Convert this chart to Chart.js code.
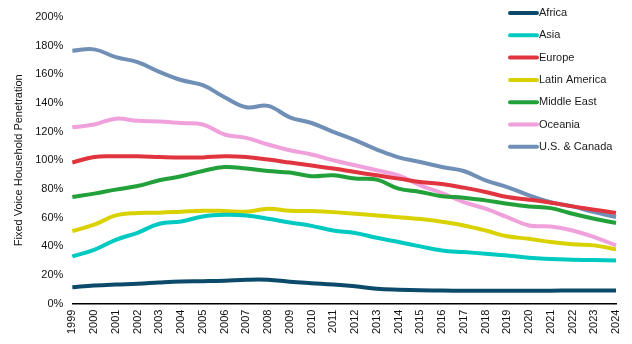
<!DOCTYPE html>
<html>
<head>
<meta charset="utf-8">
<script src="https://cdn.jsdelivr.net/npm/chart.js@4"></script>
<style>
html,body{margin:0;padding:0;background:#fff;}
#wrap{width:632px;height:344px;position:relative;}
</style>
</head>
<body>
<div id="wrap"><canvas id="c"></canvas></div>
<script>
const years = ['1999','2000','2001','2002','2003','2004','2005','2006','2007','2008','2009','2010','2011','2012','2013','2014','2015','2016','2017','2018','2019','2020','2021','2022','2023','2024'];
const africa = [11.4,12.6,13.3,13.8,14.7,15.4,15.6,15.9,16.6,16.6,15.2,14.2,13.3,12.1,10.3,9.6,9.2,9.1,8.9,8.9,8.9,8.9,9.0,9.1,9.1,9.1];
const asia = [32.9,37.5,44.5,49.4,55.7,57.3,60.8,62.0,61.5,59.2,56.6,54.2,51.0,49.2,45.9,42.9,39.9,37.0,35.9,34.8,33.6,32.0,31.0,30.6,30.3,30.1];
const europe = [98.4,102.3,102.8,102.8,102.3,101.9,102.0,102.8,102.3,100.5,98.4,96.3,94.2,91.8,89.5,87.2,84.8,83.4,80.9,77.9,74.3,72.5,70.4,67.8,65.5,63.2];
const latinAmerica = [50.6,55.0,61.5,63.2,63.4,64.1,64.8,64.6,64.1,66.2,64.8,64.5,63.8,62.7,61.5,60.3,59.0,57.1,54.5,51.0,46.9,45.2,42.9,41.3,40.6,37.8];
const middleEast = [74.3,76.7,79.5,82.0,86.0,88.8,92.5,95.3,94.2,92.5,91.4,88.9,89.5,87.2,86.5,80.2,77.9,74.9,73.9,72.0,69.7,67.8,66.6,62.7,59.2,56.2];
const oceania = [123,125,129,127.5,127,126,125,118,115.6,111,107,104,100,96.5,93,89.5,82.5,77,70.8,66.2,60.3,54.5,53.8,51,46.4,40.6];
const usCanada = [176.4,177.4,172,168.5,161.7,156,152.4,144,137,138,130,126,119.8,114,107.5,102,98.8,95.3,92.5,86,81.3,75.5,70.8,67.8,63.8,60.3];
const seriesNames = ['Africa','Asia','Europe','Latin America','Middle East','Oceania','U.S. & Canada'];
const seriesData = [africa, asia, europe, latinAmerica, middleEast, oceania, usCanada];
const seriesColors = ['#0b4a6a','#00c9c1','#e0353f','#d9d200','#22a03a','#f0a0da','#6f8fb6'];
const yTicks = [0,20,40,60,80,100,120,140,160,180,200];

const FONT = '"Liberation Sans", Arial, sans-serif';

const legendPlugin = {
  id: 'customLegend',
  afterDraw(chart) {
    const ctx = chart.ctx;
    ctx.save();
    const x0 = 510, x1 = 537, tx = 539;
    let y = 13;
    chart.data.datasets.forEach(ds => {
      ctx.strokeStyle = ds.borderColor;
      ctx.lineWidth = 4;
      ctx.lineCap = 'round';
      ctx.beginPath();
      ctx.moveTo(x0, y);
      ctx.lineTo(x1, y);
      ctx.stroke();
      ctx.fillStyle = '#1a1a1a';
      ctx.font = '11px ' + FONT;
      ctx.textBaseline = 'middle';
      ctx.textAlign = 'left';
      ctx.fillText(ds.label, tx, y);
      y += 22.3;
    });
    ctx.restore();
  }
};

new Chart(document.getElementById('c'), {
  type: 'line',
  data: {
    labels: years,
    datasets: seriesNames.map((n, i) => ({
      label: n,
      data: seriesData[i],
      borderColor: seriesColors[i],
      backgroundColor: seriesColors[i],
      borderWidth: 4,
      pointRadius: 0,
      tension: 0.4,
      fill: false
    }))
  },
  options: {
    responsive: true,
    maintainAspectRatio: false,
    animation: false,
    layout: { padding: { top: 17, right: 16, left: 12, bottom: 4 } },
    plugins: {
      legend: { display: false },
      tooltip: { enabled: false }
    },
    scales: {
      x: {
        offset: false,
        afterFit(scale) { scale.paddingRight = 0; },
        grid: { display: false, drawTicks: false },
        border: { display: true, color: '#000', width: 1.5 },
        ticks: {
          minRotation: 90, maxRotation: 90, autoSkip: false,
          padding: 6,
          color: '#111',
          font: { family: FONT, size: 11 }
        }
      },
      y: {
        min: 0, max: 200,
        afterBuildTicks(axis) { axis.ticks = yTicks.map(v => ({ value: v })); },
        grid: { display: false, drawTicks: false },
        border: { display: false },
        title: {
          display: true,
          text: 'Fixed Voice Household Penetration',
          color: '#111',
          font: { family: FONT, size: 11 },
          padding: { top: 0, bottom: 1 }
        },
        ticks: {
          padding: 9,
          color: '#111',
          font: { family: FONT, size: 11 },
          callback: v => v + '%'
        }
      }
    }
  },
  plugins: [legendPlugin]
});
</script>
</body>
</html>
